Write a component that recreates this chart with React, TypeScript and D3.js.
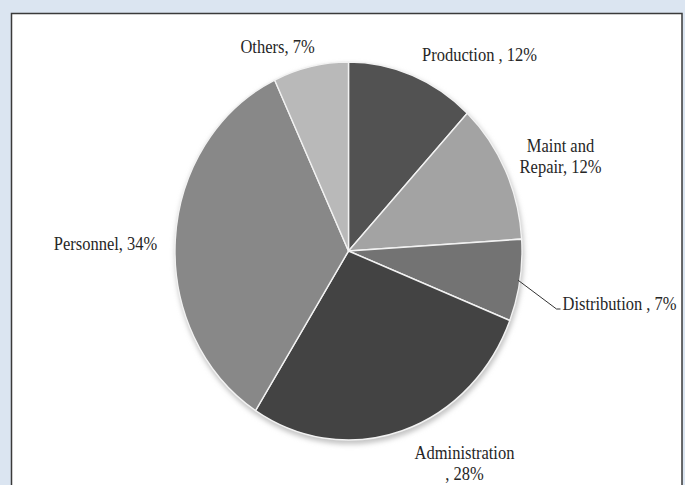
import * as d3 from 'd3'
import React from 'react'

// slice data, clockwise from 12 o'clock
const categories = ['Production', 'Maint and Repair', 'Distribution', 'Administration', 'Personnel', 'Others']
const values = [12, 12, 7, 28, 34, 7]
const labelLines = [
    ['Production , 12%'],
    ['Maint and', 'Repair, 12%'],
    ['Distribution , 7%'],
    ['Administration', ', 28%'],
    ['Personnel, 34%'],
    ['Others, 7%'],
]
const sliceColors = ['#525252', '#a3a3a3', '#737373', '#434343', '#888888', '#b9b9b9']

const W = 685
const H = 485
const cx = 348.5
const cy = 251
const rx = 173.5
const ry = 189
const sy = ry / rx

// label anchors relative to the pie centre (x = text centre / start, y = first baseline)
const labelOffsets: [number, number, string][] = [
    [131, -190, 'middle'],
    [212, -99, 'middle'],
    [214, 59, 'start'],
    [116, 208, 'middle'],
    [-243, -1, 'middle'],
    [-71, -198, 'middle'],
]

const App: React.FC = () => {
    const svgRef = React.useRef<SVGSVGElement | null>(null)

    React.useEffect(() => {
        const svg = d3.select(svgRef.current)
        svg.selectAll('*').remove()

        const defs = svg.append('defs')
        defs.append('filter')
            .attr('id', 'shadow')
            .attr('x', '-20%')
            .attr('y', '-20%')
            .attr('width', '140%')
            .attr('height', '140%')
            .append('feGaussianBlur')
            .attr('stdDeviation', 2.5)

        // background + panel
        svg.append('rect').attr('width', W).attr('height', H).attr('fill', '#dbe5f1')
        svg.append('rect')
            .attr('x', 11.5)
            .attr('y', 13.5)
            .attr('width', 670.5)
            .attr('height', H + 20)
            .attr('fill', '#ffffff')
            .attr('stroke', '#3a3a3a')
            .attr('stroke-width', 1.5)

        const pie = d3.pie<number>().sort(null).value((d) => d)
        const arcs = pie(values)
        const arc = d3.arc<d3.PieArcDatum<number>>().innerRadius(0).outerRadius(rx)

        const g = svg.append('g').attr('transform', `translate(${cx},${cy}) scale(1,${sy})`)

        // soft shadow
        g.append('circle')
            .attr('cx', 1)
            .attr('cy', 3)
            .attr('r', rx + 1)
            .attr('fill', '#c4c4c4')
            .attr('filter', 'url(#shadow)')

        g.selectAll('path.slice')
            .data(arcs)
            .join('path')
            .attr('class', 'slice')
            .attr('d', (d) => arc(d) || '')
            .attr('fill', (d, i) => sliceColors[i])
            .attr('stroke', '#f2f2f2')
            .attr('stroke-width', 1.4)
            .attr('stroke-linejoin', 'round')

        // leader line for Distribution
        const dist = arcs[2]
        const mid = (dist.startAngle + dist.endAngle) / 2
        const ex = cx + Math.sin(mid) * rx * 0.99
        const ey = cy - Math.cos(mid) * ry * 0.99
        const [lx, ly] = labelOffsets[2]
        svg.append('path')
            .attr('d', `M${ex},${ey} L${cx + lx - 6},${cy + ly - 1} L${cx + lx - 2},${cy + ly - 1}`)
            .attr('fill', 'none')
            .attr('stroke', '#333')
            .attr('stroke-width', 1)

        // labels
        labelLines.forEach((lines, i) => {
            const [ox, oy, anchor] = labelOffsets[i]
            const t = svg.append('text')
                .attr('transform', `translate(${cx + ox},${cy + oy}) scale(1,${sy})`)
                .attr('text-anchor', anchor)
                .attr('font-family', '"Liberation Serif", "Times New Roman", serif')
                .attr('font-size', 16.5)
                .attr('fill', '#262626')
                .attr('aria-label', categories[i])
            lines.forEach((line, j) => {
                t.append('tspan').attr('x', 0).attr('y', j * 19.5).text(line)
            })
        })
    }, [])

    return (
        <svg
            ref={svgRef}
            width={W}
            height={H}
            style={{ position: 'absolute', left: 0, top: 0, display: 'block' }}
        ></svg>
    )
}

export default App
